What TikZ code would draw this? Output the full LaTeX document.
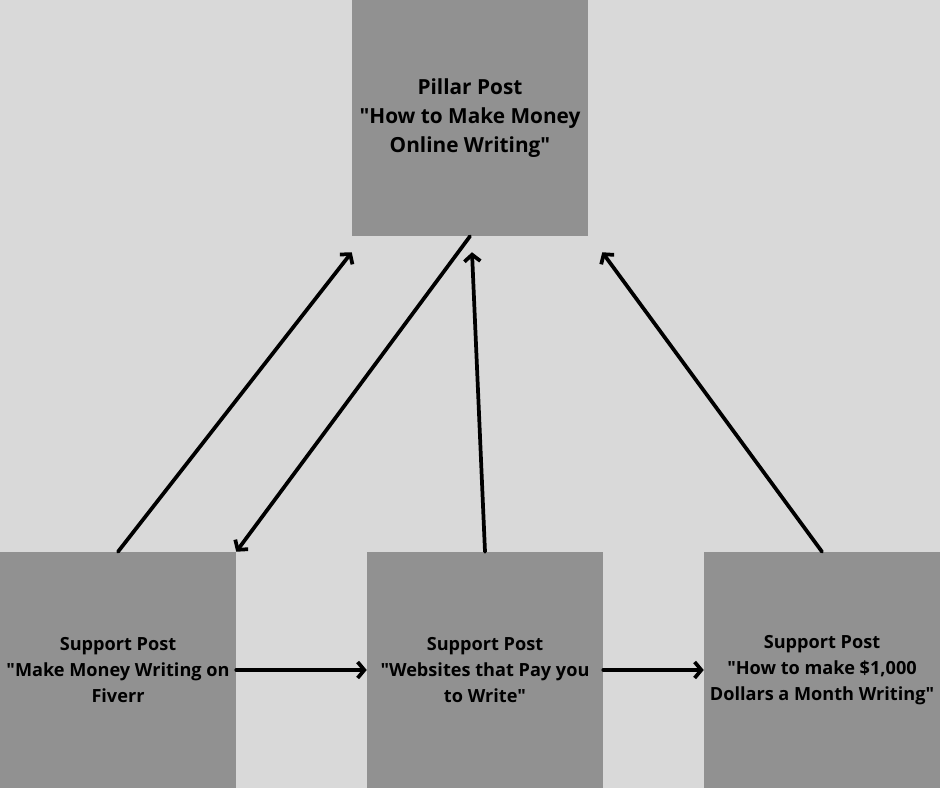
\documentclass[tikz,border=0pt]{standalone}
\usepackage{fontspec}
\setmainfont{Open Sans}
\usepackage{tikz}
\usetikzlibrary{arrows.meta}
\definecolor{bggray}{HTML}{D9D9D9}
\definecolor{boxgray}{HTML}{919191}
\newcommand{\dq}{\textquotedbl}

\begin{document}
\begin{tikzpicture}[x=0.75pt,y=-0.75pt,>={Straight Barb[length=5pt,width=12pt]}]
			\tikzset{
				post/.style={fill=boxgray, inner sep=0pt, minimum width=177pt, minimum height=177pt, align=center, font=\bfseries},
				link/.style={->, line width=2.8pt, line join=round, line cap=round}
			}
			\fill[bggray] (0,0) rectangle (940,788);
			\useasboundingbox (0,0) rectangle (940,788);

			\node[post, font=\bfseries\fontsize{15.6}{21.75}\selectfont] (pillar) at (470,118) {Pillar Post\\\dq How to Make Money\\Online Writing\dq};

			\foreach \i/\x/\txt in {1/118/{\dq Make Money Writing on\\Fiverr},
			                        2/485/{\dq Websites that Pay you\\to Write\dq},
			                        3/822/{\dq How to make \$1,000\\Dollars a Month Writing\dq}}{
				\node[post, font=\bfseries\fontsize{13.6}{19.5}\selectfont] (sp\i) at (\x,670) {Support Post\\\txt};
			}

			\draw[link] (sp1.north) -- ([yshift=-12pt]pillar.south west);
			\draw[link] (pillar.south) -- (sp1.north east);
			\draw[link] (sp2.north) -- ([xshift=1.5pt,yshift=-12pt]pillar.south);
			\draw[link] (sp3.north) -- ([xshift=10.5pt,yshift=-12pt]pillar.south east);
			\draw[link] (sp1.east) -- (sp2.west);
			\draw[link] (sp2.east) -- (sp3.west);
		\end{tikzpicture}
\end{document}
